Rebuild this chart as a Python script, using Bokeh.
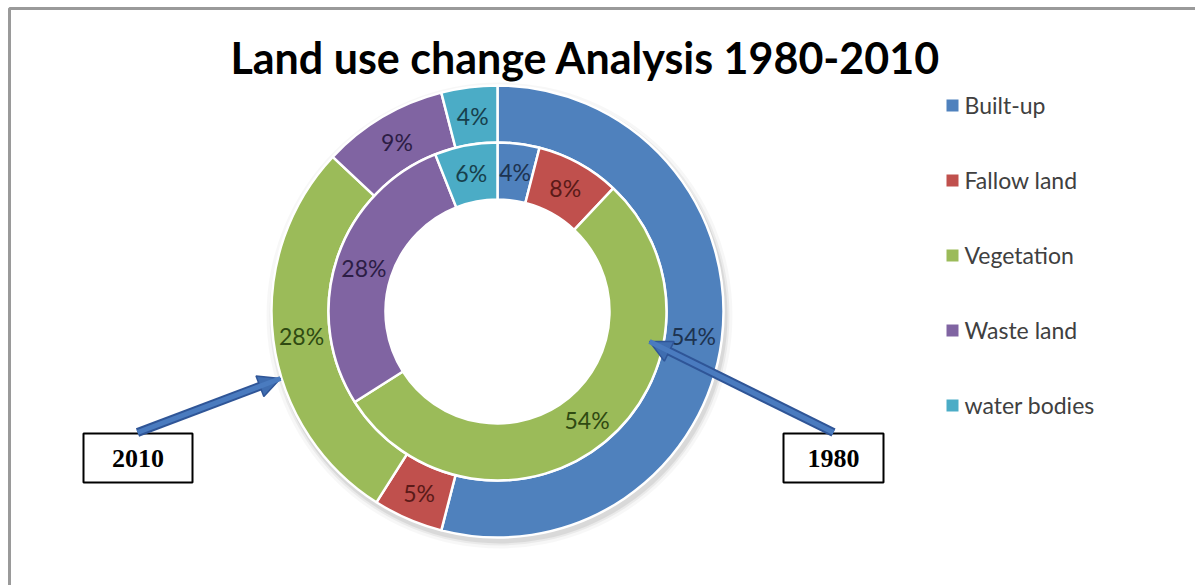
import numpy as np
from bokeh.plotting import figure
from bokeh.models import Range1d, ColumnDataSource, Arrow, NormalHead
from bokeh.core.properties import value
from bokeh.embed import file_html
from bokeh.resources import INLINE

# ---- data ----
categories = ["Built-up", "Fallow land", "Vegetation", "Waste land", "water bodies"]
share_1980 = [4, 8, 54, 28, 6]     # inner ring
share_2010 = [54, 5, 28, 9, 4]     # outer ring
colors = ["#4F81BD", "#C0504D", "#9BBB59", "#8064A2", "#4BACC6"]
label_colors = ["#1d3350", "#5a1a18", "#2f4a12", "#2c1d45", "#173f4c"]
title_text = "Land use change Analysis 1980-2010"
year_labels = ["1980", "2010"]

W, H = 1195, 585
def Y(y):  # image-style top-down pixel -> data y
    return H - y

p = figure(width=W, height=H, x_range=Range1d(0, W), y_range=Range1d(0, H),
           output_backend="svg", toolbar_location=None, min_border=0,
           x_axis_location=None, y_axis_location=None)
p.grid.visible = False
p.outline_line_color = None
p.background_fill_color = "white"

# frame of the chart area
p.quad(left=[9], right=[W + 20], top=[Y(8)], bottom=[-20],
       fill_color=None, line_color="#9a9a9a", line_width=3)

cx, cy = 497, Y(311)
r_hole, r_mid, r_out = 112, 169, 226

# soft shadow around the outer edge
for dr, a in [(7, 0.03), (4, 0.05), (2, 0.07)]:
    p.annulus(x=[cx + 2], y=[cy - 4], inner_radius=r_out - 10,
              outer_radius=r_out + dr, fill_color="#000000",
              fill_alpha=a, line_color=None)


def ring(shares, r_in, r_o):
    fr = np.array(shares, dtype=float) / np.sum(shares)
    cum = np.concatenate([[0], np.cumsum(fr)])
    start = np.pi / 2 - 2 * np.pi * cum[:-1]
    end = np.pi / 2 - 2 * np.pi * cum[1:]
    mid = (start + end) / 2
    rm = (r_in + r_o) / 2
    src = ColumnDataSource(dict(
        start=start, end=end, color=colors, lcolor=label_colors,
        lx=cx + rm * np.cos(mid), ly=cy + rm * np.sin(mid),
        txt=[f"{s}%" for s in shares], cat=categories))
    p.annular_wedge(x=cx, y=cy, inner_radius=r_in, outer_radius=r_o,
                    start_angle="start", end_angle="end", direction="clock",
                    fill_color="color", line_color="white", line_width=2.5,
                    source=src)
    p.text(x="lx", y="ly", text="txt", text_color="lcolor",
           text_font=value("Lato"), text_font_size="23px",
           text_align="center", text_baseline="middle", source=src)

ring(share_2010, r_mid, r_out)
ring(share_1980, r_hole, r_mid)

# title
p.text(x=[585], y=[Y(57)], text=[title_text], text_font=value("Lato"),
       text_font_style="bold", text_font_size="43px", text_color="black",
       text_align="center", text_baseline="middle")

# legend
ly0 = 105
for i, (c, name) in enumerate(zip(colors, categories)):
    yy = Y(ly0 + 75 * i)
    p.rect(x=[952], y=[yy], width=12, height=12, fill_color=c, line_color=None)
    p.text(x=[964], y=[yy + 1], text=[name], text_font=value("Lato"),
           text_font_size="23px", text_color="#404040",
           text_align="left", text_baseline="middle")

# arrows
for (x0, y0, x1, y1) in [(833, 432, 649, 341), (137, 432, 280, 378)]:
    p.add_layout(Arrow(x_start=x0, y_start=Y(y0), x_end=x1, y_end=Y(y1),
                       line_color="#2f5597", line_width=9,
                       end=NormalHead(size=22, fill_color="#3f6db0",
                                      line_color="#2f5597", line_width=1.5)))
    p.add_layout(Arrow(x_start=x0, y_start=Y(y0), x_end=x1, y_end=Y(y1),
                       line_color="#4a7bbf", line_width=5, end=None))

# year boxes
boxes = [(783, 883), (83, 192)]
for (l, r), yl in zip(boxes, year_labels):
    p.quad(left=[l], right=[r], top=[Y(433)], bottom=[Y(482)],
           fill_color="white", line_color="black", line_width=2)
    p.text(x=[(l + r) / 2], y=[Y(458)], text=[yl],
           text_font=value("Liberation Serif"), text_font_style="bold",
           text_font_size="26px", text_color="black",
           text_align="center", text_baseline="middle")

open("out.html", "w").write(file_html(p, INLINE))
